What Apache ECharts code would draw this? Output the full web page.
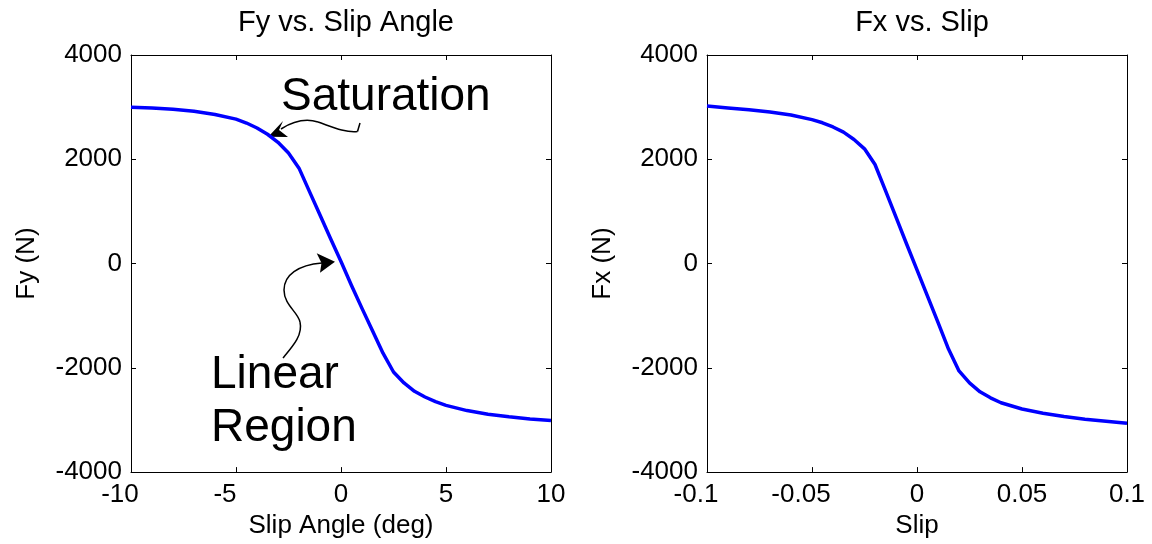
<!DOCTYPE html>
<html>
<head>
<meta charset="utf-8">
<script src="https://cdn.jsdelivr.net/npm/echarts@6/dist/echarts.min.js"></script>
<style>html,body{margin:0;padding:0;background:#fff}#c{width:1152px;height:544px}</style>
</head>
<body>
<div id="c"></div>
<script>
// Left panel: Fy vs slip angle
const slipAngle = [-10,-9,-8,-7,-6,-5,-4.5,-4,-3.5,-3,-2.5,-2,-1.5,-1,-0.5,0,0.5,1,1.5,2,2.5,3,3.5,4,4.5,5,6,7,8,9,10];
const fyValues = [3000,2985,2960,2920,2860,2770,2695,2600,2480,2325,2120,1830,1380,930,480,40,-420,-860,-1290,-1720,-2080,-2290,-2450,-2560,-2650,-2720,-2820,-2890,-2940,-2980,-3010];
// Right panel: Fx vs slip
const slip = [-0.1,-0.09,-0.08,-0.07,-0.06,-0.05,-0.045,-0.04,-0.035,-0.03,-0.025,-0.02,-0.015,-0.01,-0.005,0,0.005,0.01,0.015,0.02,0.025,0.03,0.035,0.04,0.05,0.06,0.07,0.08,0.09,0.1];
const fxValues = [3020,2985,2950,2905,2850,2760,2700,2620,2520,2380,2200,1900,1400,890,380,-120,-625,-1130,-1640,-2060,-2290,-2460,-2575,-2670,-2790,-2870,-2935,-2985,-3025,-3065];

const titles = ['Fy vs. Slip Angle', 'Fx vs. Slip'];
const xNames = ['Slip Angle (deg)', 'Slip'];
const yNames = ['Fy (N)', 'Fx (N)'];
const annoSaturation = 'Saturation';
const annoLinear = ['Linear', 'Region'];

const FONT = 'Liberation Sans, Arial, Helvetica, sans-serif';
const chart = echarts.init(document.getElementById('c'), null, {renderer: 'canvas'});

function fmtX(v) {
  const s = String(+v.toFixed(4));
  return v < 0 ? '{neg|' + s + '}' : '{pos|' + s + '}';
}
const labelRich = {
  neg: {fontSize: 26, fontFamily: FONT, color: '#000', padding: [0, 22, 0, 0]},
  pos: {fontSize: 26, fontFamily: FONT, color: '#000'}
};

function xAxes(gi, min, max, interval) {
  const common = {
    type: 'value', gridIndex: gi, min: min, max: max, interval: interval,
    splitLine: {show: false},
    axisLine: {show: true, onZero: false, lineStyle: {color: '#000', width: 1}},
    axisTick: {show: true, inside: true, length: 5, lineStyle: {color: '#000'}}
  };
  return [
    Object.assign({}, common, {
      position: 'bottom',
      name: xNames[gi], nameLocation: 'middle', nameGap: 38,
      nameTextStyle: {fontSize: 26, fontFamily: FONT, color: '#000'},
      axisLabel: {show: true, margin: 10, formatter: fmtX, rich: labelRich, fontSize: 26, fontFamily: FONT, color: '#000'}
    }),
    Object.assign({}, common, {position: 'top', axisLabel: {show: false}})
  ];
}
function yAxes(gi) {
  const common = {
    type: 'value', gridIndex: gi, min: -4000, max: 4000, interval: 2000,
    splitLine: {show: false},
    axisLine: {show: true, onZero: false, lineStyle: {color: '#000', width: 1}},
    axisTick: {show: true, inside: true, length: 5, lineStyle: {color: '#000'}}
  };
  return [
    Object.assign({}, common, {
      position: 'left',
      name: yNames[gi], nameLocation: 'middle', nameGap: 91, nameRotate: 90,
      nameTextStyle: {fontSize: 26, fontFamily: FONT, color: '#000'},
      axisLabel: {show: true, margin: 9, fontSize: 26, fontFamily: FONT, color: '#000', formatter: v => String(v)}
    }),
    Object.assign({}, common, {position: 'right', axisLabel: {show: false}})
  ];
}

const option = {
  backgroundColor: '#fff',
  animation: false,
  title: [
    {text: titles[0], left: 341, top: 3, textAlign: 'center', textStyle: {fontSize: 29, fontWeight: 'normal', fontFamily: FONT, color: '#000'}},
    {text: titles[1], left: 917, top: 3, textAlign: 'center', textStyle: {fontSize: 29, fontWeight: 'normal', fontFamily: FONT, color: '#000'}}
  ],
  grid: [
    {left: 131, top: 55, width: 420, height: 418, containLabel: false},
    {left: 707, top: 55, width: 420, height: 418, containLabel: false}
  ],
  xAxis: [].concat(xAxes(0, -10, 10, 5), xAxes(1, -0.1, 0.1, 0.05)),
  yAxis: [].concat(yAxes(0), yAxes(1)),
  series: [
    {
      type: 'line', xAxisIndex: 0, yAxisIndex: 0,
      data: slipAngle.map((x, i) => [x, fyValues[i]]),
      showSymbol: false, smooth: false,
      lineStyle: {color: '#0000ff', width: 3.5, join: 'round'}
    },
    {
      type: 'line', xAxisIndex: 2, yAxisIndex: 2,
      data: slip.map((x, i) => [x, fxValues[i]]),
      showSymbol: false, smooth: false,
      lineStyle: {color: '#0000ff', width: 3.5, join: 'round'}
    }
  ],
  graphic: [
    {type: 'text', style: {x: 281, y: 97.5, text: annoSaturation, font: '46px ' + FONT, fill: '#000', verticalAlign: 'middle'}},
    {type: 'text', style: {x: 211, y: 375, text: annoLinear[0], font: '46px ' + FONT, fill: '#000', verticalAlign: 'middle'}},
    {type: 'text', style: {x: 211, y: 428.5, text: annoLinear[1], font: '46px ' + FONT, fill: '#000', verticalAlign: 'middle'}},
    // Saturation arrow
    {type: 'line', shape: {x1: 360, y1: 123, x2: 357.5, y2: 131.5}, style: {stroke: '#000', lineWidth: 1.5}},
    {type: 'bezierCurve', shape: {x1: 357.5, y1: 131.5, cpx1: 345, cpy1: 133, cpx2: 330, cpy2: 126, x2: 318, y2: 122}, style: {stroke: '#000', lineWidth: 1.5, fill: null}},
    {type: 'bezierCurve', shape: {x1: 318, y1: 122, cpx1: 305, cpy1: 118, cpx2: 292, cpy2: 122, x2: 281, y2: 129}, style: {stroke: '#000', lineWidth: 1.5, fill: null}},
    {type: 'polygon', shape: {points: [[268.3, 136.7], [283, 121], [279, 130], [288, 137]]}, style: {fill: '#000'}},
    // Linear arrow
    {type: 'bezierCurve', shape: {x1: 283, y1: 358, cpx1: 293, cpy1: 346, cpx2: 303, cpy2: 335, x2: 300, y2: 322}, style: {stroke: '#000', lineWidth: 1.5, fill: null}},
    {type: 'bezierCurve', shape: {x1: 300, y1: 322, cpx1: 298, cpy1: 312, cpx2: 284, cpy2: 305, x2: 284, y2: 290}, style: {stroke: '#000', lineWidth: 1.5, fill: null}},
    {type: 'bezierCurve', shape: {x1: 284, y1: 290, cpx1: 284, cpy1: 275, cpx2: 298, cpy2: 265, x2: 322, y2: 263}, style: {stroke: '#000', lineWidth: 1.5, fill: null}},
    {type: 'polygon', shape: {points: [[335, 261.7], [316.7, 253.3], [321.5, 263], [320, 272.7]]}, style: {fill: '#000'}}
  ]
};
chart.setOption(option);
</script>
</body>
</html>
